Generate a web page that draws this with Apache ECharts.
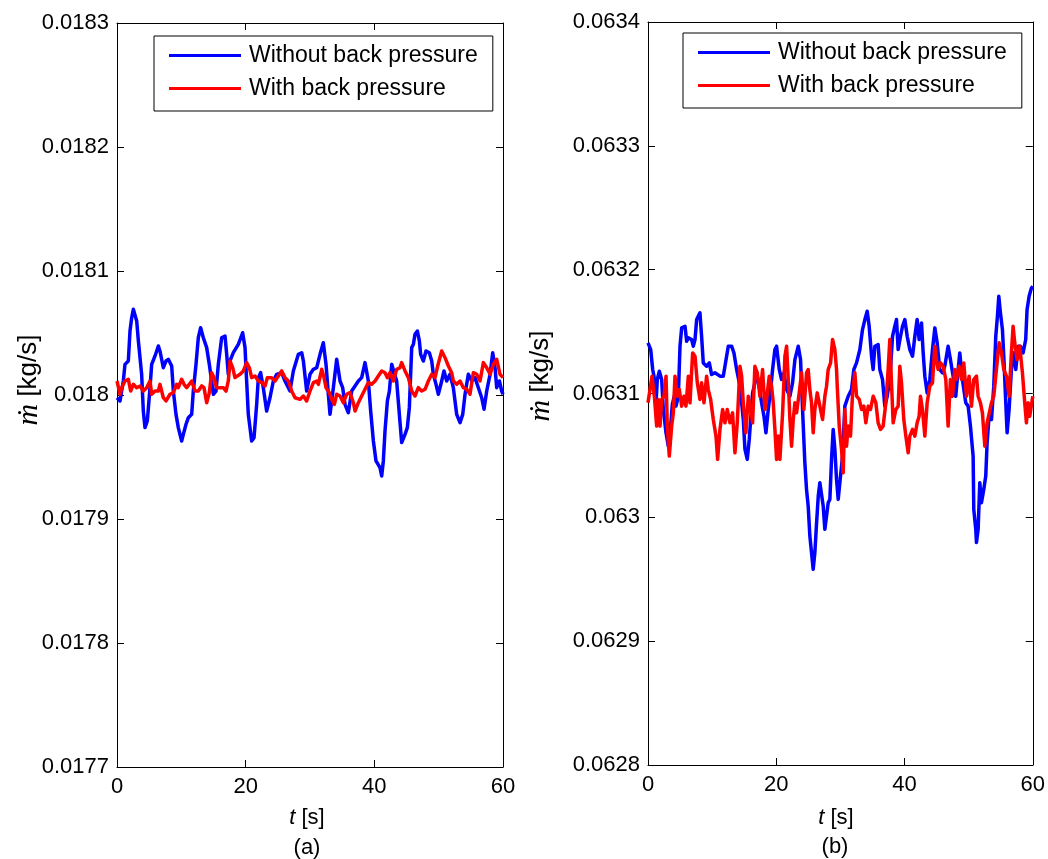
<!DOCTYPE html>
<html>
<head>
<meta charset="utf-8">
<script src="https://cdn.jsdelivr.net/npm/echarts@6/dist/echarts.min.js"></script>
<style>
  html, body { margin: 0; padding: 0; background: #ffffff; }
  #chart { width: 1048px; height: 859px; }
</style>
</head>
<body>
<div id="chart"></div>
<script>
// Mass flow rate traces, [time (s), mass flow (kg/s)]
const seriesNames = ['Without back pressure', 'With back pressure'];
const timeTicks = { min: 0, max: 60, interval: 20 };
const flowRangeA = { min: 0.0177, max: 0.0183, interval: 0.0001 };
const flowRangeB = { min: 0.0628, max: 0.0634, interval: 0.0001 };

const withoutA = [[0,0.0179978],[0.47,0.0179952],[0.98,0.0180113],[1.24,0.0180247],[1.76,0.0180274],[2.02,0.0180516],[2.28,0.0180623],[2.54,0.0180691],[3.06,0.0180597],[3.32,0.0180436],[3.83,0.0180167],[4.09,0.0179871],[4.35,0.0179737],[4.71,0.017979],[5.13,0.0180059],[5.39,0.0180247],[5.91,0.0180315],[6.43,0.0180395],[6.68,0.0180355],[6.94,0.0180341],[7.2,0.018022],[7.62,0.0180274],[7.98,0.0180288],[8.5,0.0180234],[8.76,0.0180032],[9.17,0.0179844],[9.53,0.0179737],[10.05,0.0179629],[10.31,0.0179683],[10.73,0.0179764],[11.09,0.0179817],[11.61,0.0179844],[11.86,0.0180032],[12.28,0.0180247],[12.64,0.0180462],[13.0,0.0180543],[13.42,0.0180462],[13.94,0.0180382],[14.35,0.0180247],[14.71,0.0180113],[14.97,0.0180006],[15.39,0.0180032],[15.75,0.0180247],[16.27,0.0180462],[16.79,0.0180476],[17.05,0.0180328],[17.3,0.0180167],[17.56,0.0180274],[18.08,0.0180341],[18.86,0.0180409],[19.53,0.0180502],[19.9,0.0180382],[20.15,0.0180113],[20.41,0.0179844],[20.93,0.0179629],[21.3,0.0179656],[21.71,0.0179925],[21.97,0.018014],[22.33,0.018018],[22.74,0.0180059],[23.26,0.0179871],[23.78,0.0179978],[24.3,0.0180113],[24.82,0.0180167],[25.6,0.018018],[26.11,0.0180113],[26.89,0.0180032],[27.41,0.0180194],[28.19,0.0180328],[28.71,0.0180341],[28.97,0.0180274],[29.48,0.0180032],[30.0,0.0180167],[30.52,0.0180207],[31.04,0.018022],[31.56,0.0180328],[32.07,0.0180422],[32.49,0.0180247],[32.85,0.0180006],[33.11,0.0179844],[33.63,0.0180059],[34.15,0.0180288],[34.67,0.0180113],[35.08,0.0180059],[35.44,0.0179925],[35.96,0.0179857],[36.48,0.0180032],[37.0,0.0180073],[37.52,0.0180113],[38.03,0.018014],[38.55,0.0180261],[39.07,0.0180113],[39.43,0.0179871],[39.85,0.0179629],[40.26,0.0179468],[40.88,0.0179414],[41.14,0.0179347],[41.4,0.0179468],[41.66,0.017971],[42.03,0.0179952],[42.34,0.0180032],[42.7,0.0180247],[42.95,0.0180261],[43.47,0.0180113],[43.89,0.0179844],[44.25,0.0179616],[44.77,0.0179683],[45.13,0.0179737],[45.44,0.0179898],[45.81,0.0180382],[46.07,0.0180409],[46.32,0.018049],[46.69,0.0180516],[47.0,0.0180436],[47.2,0.0180328],[47.62,0.0180274],[48.03,0.0180355],[48.55,0.0180341],[48.92,0.0180274],[49.17,0.0180167],[49.59,0.0180086],[49.95,0.0180006],[50.47,0.0180113],[50.83,0.0180194],[51.25,0.0180113],[51.76,0.0180167],[52.28,0.0180059],[52.8,0.0179844],[53.32,0.0179777],[53.74,0.0179844],[54.1,0.0180006],[54.61,0.0180167],[55.13,0.0180113],[55.65,0.018014],[56.17,0.0180059],[56.69,0.0179978],[57.05,0.0179885],[57.47,0.0180032],[57.99,0.0180167],[58.4,0.0180341],[58.76,0.018022],[59.02,0.0180059],[59.44,0.0180113],[59.8,0.0180032],[60,0.0180006]];

const withA = [[0,0.0180113],[0.47,0.0180006],[0.73,0.0180059],[1.24,0.0180113],[1.76,0.0180127],[2.12,0.0180032],[2.54,0.0180086],[3.06,0.0180059],[3.58,0.0180073],[4.09,0.0180032],[4.61,0.0180059],[5.13,0.0180113],[5.39,0.0180006],[5.91,0.0180032],[6.43,0.0180032],[6.68,0.0180086],[7.2,0.0179978],[7.62,0.0179952],[8.24,0.0180006],[8.76,0.0180019],[9.27,0.0180086],[9.53,0.0180059],[10.05,0.0180127],[10.42,0.0180086],[10.83,0.0180059],[11.61,0.0180113],[12.12,0.0180032],[12.64,0.0180032],[13.16,0.0180073],[13.52,0.0180059],[13.94,0.0179938],[14.35,0.0180019],[14.71,0.018018],[15.08,0.018014],[15.49,0.0180059],[16.01,0.0180059],[16.53,0.0180059],[16.95,0.0180032],[17.3,0.0180113],[17.56,0.0180274],[17.98,0.018022],[18.34,0.018014],[19.12,0.0180167],[19.64,0.0180194],[20.15,0.0180261],[20.57,0.018022],[20.93,0.018014],[21.45,0.0180153],[21.97,0.0180113],[22.49,0.01801],[23.01,0.0180073],[23.37,0.018014],[24.04,0.018014],[24.56,0.0180113],[25.08,0.0180153],[25.6,0.0180194],[26.11,0.018014],[26.63,0.0180113],[27.15,0.0180032],[27.67,0.0179978],[28.45,0.0179965],[28.97,0.0179992],[29.48,0.0179952],[30.0,0.0180032],[30.52,0.01801],[31.04,0.0180113],[31.3,0.0180086],[31.82,0.0180207],[32.18,0.018014],[32.49,0.0180059],[33.01,0.0180019],[33.37,0.0179965],[33.79,0.0179925],[34.15,0.0180006],[34.67,0.0179992],[35.18,0.0179938],[35.7,0.0180006],[36.22,0.0180019],[36.74,0.0179938],[37.0,0.0179871],[37.52,0.0179938],[38.03,0.0179992],[38.55,0.0180046],[39.07,0.01801],[39.59,0.0180086],[40.11,0.0180113],[40.62,0.0180153],[41.14,0.0180194],[41.66,0.018018],[42.03,0.018014],[42.44,0.018018],[42.96,0.0180113],[43.47,0.0180207],[43.99,0.018022],[44.25,0.0180261],[44.77,0.0180194],[45.29,0.018014],[45.81,0.0180032],[46.32,0.0179992],[46.84,0.0180059],[47.36,0.0180032],[47.88,0.0180046],[48.4,0.0180113],[48.92,0.0180167],[49.43,0.018014],[49.85,0.0180234],[50.47,0.0180355],[50.99,0.0180301],[51.51,0.0180234],[52.02,0.018018],[52.28,0.0180113],[52.8,0.0180086],[53.32,0.0180113],[53.84,0.0180059],[54.36,0.0180046],[54.87,0.0180006],[55.39,0.018018],[55.91,0.0180167],[56.43,0.0180113],[56.95,0.0180261],[57.47,0.018022],[57.99,0.0180167],[58.5,0.0180247],[59.02,0.0180288],[59.54,0.0180167],[60,0.018014]];

const withoutB = [[0,0.0631409],[0.42,0.0631355],[0.73,0.0631194],[0.93,0.063114],[1.25,0.0630925],[1.45,0.0631113],[1.77,0.063118],[2.13,0.0631113],[2.39,0.0630871],[2.81,0.0630683],[3.17,0.0630575],[3.53,0.0630737],[3.79,0.0630911],[4.1,0.0630978],[4.36,0.0630898],[4.73,0.0630978],[4.99,0.0631382],[5.25,0.063153],[5.77,0.0631543],[6.03,0.0631422],[6.29,0.0631449],[6.8,0.0631436],[7.07,0.0631382],[7.33,0.0631436],[7.59,0.0631597],[7.84,0.0631583],[8.1,0.0631651],[8.36,0.0631462],[8.62,0.0631247],[9.14,0.063122],[9.56,0.0631247],[9.92,0.0631153],[10.44,0.0631167],[11.22,0.063114],[11.74,0.063114],[12.0,0.063122],[12.52,0.0631382],[13.04,0.0631382],[13.4,0.0631328],[13.82,0.0631194],[14.34,0.0631059],[14.86,0.063079],[15.12,0.0630548],[15.48,0.0630468],[15.79,0.0630629],[16.05,0.0630817],[16.31,0.0631005],[16.67,0.0631086],[16.93,0.0631167],[17.35,0.0631059],[17.71,0.0630925],[18.08,0.0630817],[18.39,0.0630683],[18.75,0.0630871],[19.12,0.0631032],[19.43,0.0631194],[19.79,0.0631355],[20.05,0.0631382],[20.47,0.0631194],[20.83,0.0631113],[21.19,0.0631167],[21.61,0.0631032],[22.13,0.0630978],[22.54,0.0631086],[22.91,0.0631274],[23.43,0.0631382],[23.79,0.0631274],[24.1,0.0630871],[24.46,0.0630441],[24.72,0.0630226],[24.98,0.0630091],[25.24,0.0629849],[25.5,0.0629715],[25.76,0.0629581],[26.02,0.0629715],[26.29,0.0629957],[26.55,0.0630172],[26.8,0.063028],[27.07,0.063028],[27.32,0.0630091],[27.58,0.0629903],[27.84,0.0630011],[28.1,0.0630118],[28.36,0.0630145],[28.62,0.0630468],[28.88,0.063071],[29.14,0.0630548],[29.4,0.0630306],[29.66,0.0630145],[30.02,0.0630333],[30.34,0.0630495],[30.7,0.0630898],[31.22,0.0630978],[31.74,0.0631032],[32.1,0.0631194],[32.52,0.0631247],[33.04,0.0631355],[33.45,0.0631516],[33.82,0.0631597],[34.18,0.0631664],[34.49,0.0631543],[34.86,0.0631301],[35.11,0.0631194],[35.38,0.0631382],[35.89,0.0631395],[36.15,0.0631194],[36.57,0.0631113],[36.93,0.0630898],[37.3,0.0630978],[37.71,0.0631113],[38.13,0.0631462],[38.49,0.0631543],[38.75,0.0631597],[39.01,0.0631355],[39.38,0.0631462],[39.69,0.0631543],[40.05,0.0631597],[40.42,0.0631462],[40.83,0.0631355],[41.25,0.0631301],[41.61,0.0631462],[41.97,0.0631597],[42.28,0.0631436],[42.65,0.063157],[42.91,0.0631328],[43.17,0.063114],[43.53,0.0631005],[43.95,0.0631113],[44.36,0.0631355],[44.73,0.063153],[45.09,0.0631409],[45.5,0.0631194],[45.92,0.0631167],[46.28,0.063122],[46.8,0.0631382],[47.16,0.0631274],[47.58,0.063114],[47.99,0.0630978],[48.36,0.0631194],[48.62,0.0631328],[49.03,0.0631113],[49.55,0.0630925],[49.92,0.0630898],[50.28,0.0630737],[50.7,0.0630495],[50.8,0.0630064],[51.11,0.0629903],[51.22,0.0629796],[51.48,0.0629903],[51.74,0.063028],[52.0,0.0630118],[52.36,0.0630226],[52.67,0.0630333],[52.88,0.0630602],[53.19,0.0630817],[53.56,0.063079],[53.92,0.0631059],[54.23,0.0631462],[54.49,0.0631624],[54.7,0.0631785],[54.96,0.0631651],[55.27,0.0631516],[55.48,0.0631301],[55.79,0.0630925],[56.0,0.0630683],[56.31,0.0630871],[56.67,0.0631194],[57.04,0.0631328],[57.35,0.0631194],[57.71,0.0631382],[58.07,0.0631382],[58.49,0.0631328],[58.9,0.0631436],[59.11,0.0631677],[59.43,0.0631785],[59.79,0.0631852],[60,0.0631866]];

const withB = [[0,0.0630925],[0.62,0.063114],[0.99,0.0630978],[1.35,0.0630737],[1.61,0.0630952],[1.87,0.0630737],[2.13,0.0630952],[2.49,0.0630978],[2.81,0.063114],[3.01,0.0630737],[3.32,0.0630495],[3.69,0.0630737],[3.95,0.0630844],[4.21,0.063114],[4.57,0.0630978],[4.88,0.0631032],[5.25,0.0630898],[5.61,0.0630978],[5.92,0.0630898],[6.29,0.063114],[6.55,0.0630925],[6.96,0.0631328],[7.33,0.0631301],[7.69,0.0631086],[8.1,0.0630952],[8.36,0.0631086],[8.73,0.0630925],[9.14,0.063114],[9.4,0.0631032],[9.77,0.0630952],[10.18,0.063079],[10.6,0.0630656],[10.86,0.0630468],[11.22,0.063071],[11.64,0.0630871],[12.0,0.0630763],[12.36,0.0630871],[12.78,0.0630763],[13.19,0.0630844],[13.56,0.0630521],[13.92,0.0630763],[14.34,0.063122],[14.6,0.063114],[14.86,0.0630925],[15.27,0.0630683],[15.64,0.0630978],[16.0,0.0630871],[16.31,0.0630763],[16.67,0.063122],[17.04,0.0631167],[17.45,0.0630978],[17.87,0.0631194],[18.23,0.0630871],[18.49,0.0630952],[18.91,0.063114],[19.27,0.0631059],[19.53,0.0630925],[19.79,0.063071],[20.05,0.0630468],[20.31,0.0630656],[20.57,0.0630468],[20.99,0.0630844],[21.35,0.0631301],[21.61,0.0631382],[21.87,0.0631113],[22.13,0.063079],[22.39,0.0630575],[22.65,0.063079],[22.91,0.0630925],[23.17,0.0630844],[23.58,0.0631005],[23.95,0.0631167],[24.31,0.0630871],[24.73,0.0631167],[24.98,0.0631194],[25.24,0.0631032],[25.5,0.0630925],[25.76,0.0630683],[26.02,0.0630871],[26.39,0.0631005],[26.8,0.0630898],[27.22,0.063079],[27.58,0.0630978],[27.84,0.0631059],[28.1,0.0631194],[28.47,0.0631247],[28.78,0.0631436],[29.14,0.0631355],[29.4,0.0631194],[29.51,0.0631059],[29.82,0.0630737],[30.18,0.0630548],[30.44,0.063036],[30.7,0.0630871],[30.96,0.0630575],[31.22,0.0630737],[31.58,0.0630656],[31.9,0.0631005],[32.26,0.0631167],[32.52,0.0630978],[32.94,0.0630952],[33.3,0.0630871],[33.66,0.0630898],[33.97,0.0630763],[34.34,0.0630898],[34.7,0.0630871],[35.11,0.0630978],[35.53,0.0630925],[35.89,0.0630763],[36.26,0.063071],[36.67,0.0630737],[37.09,0.0630925],[37.45,0.0631194],[37.71,0.0631436],[37.97,0.0631086],[38.23,0.0630763],[38.65,0.0630871],[39.01,0.0630898],[39.27,0.063122],[39.53,0.0631086],[39.89,0.063079],[40.21,0.0630656],[40.57,0.0630521],[40.83,0.0630656],[41.25,0.063071],[41.61,0.0630656],[41.97,0.0630763],[42.28,0.0630817],[42.49,0.0630978],[42.8,0.0630871],[43.17,0.0630656],[43.53,0.0630925],[43.95,0.0631059],[44.36,0.0631086],[44.73,0.0631382],[44.98,0.0631274],[45.24,0.0631194],[45.61,0.0631247],[46.02,0.063122],[46.44,0.0631113],[46.8,0.0630737],[47.16,0.0631113],[47.48,0.0630978],[47.84,0.0631194],[48.1,0.0631113],[48.51,0.063122],[48.88,0.0631113],[49.24,0.0631247],[49.66,0.0630978],[50.07,0.063114],[50.44,0.0630898],[50.8,0.0631113],[51.22,0.063114],[51.48,0.0630978],[51.84,0.0630925],[52.15,0.0630844],[52.52,0.0630575],[52.88,0.0630763],[53.19,0.0630763],[53.56,0.0630925],[53.92,0.0630978],[54.33,0.0631194],[54.75,0.0631409],[55.12,0.0631328],[55.48,0.0631194],[55.9,0.063114],[56.31,0.0630978],[56.67,0.0631328],[56.93,0.0631543],[57.19,0.0631409],[57.56,0.0631274],[57.97,0.0631382],[58.39,0.0631167],[58.75,0.0630925],[59.01,0.0630763],[59.27,0.0630925],[59.53,0.0630817],[60,0.0630978]];

const FONT = "'Liberation Sans', Arial, Helvetica, sans-serif";
const INK = '#000000';
const BLUE = '#0000ff';
const RED = '#ff0000';

// One box-style axis: ticks pointing inward, labels only on the bottom/left sides
function timeAxis(gridIndex, position, showLabels) {
  return {
    type: 'value', gridIndex, position,
    min: timeTicks.min, max: timeTicks.max, interval: timeTicks.interval,
    axisLine: { show: true, onZero: false, lineStyle: { color: INK, width: 1 } },
    axisTick: { show: true, inside: true, length: 7, lineStyle: { color: INK, width: 1 } },
    axisLabel: { show: showLabels, color: INK, fontSize: 22, fontFamily: FONT, margin: 9 },
    splitLine: { show: false }
  };
}
function flowAxis(gridIndex, position, range, showLabels) {
  return {
    type: 'value', gridIndex, position,
    min: range.min, max: range.max, interval: range.interval,
    axisLine: { show: true, onZero: false, lineStyle: { color: INK, width: 1 } },
    axisTick: { show: true, inside: true, length: 7, lineStyle: { color: INK, width: 1 } },
    axisLabel: { show: showLabels, color: INK, fontSize: 22, fontFamily: FONT, margin: 8 },
    splitLine: { show: false }
  };
}
function trace(name, color, data, axisIdx) {
  return {
    name, type: 'line', data,
    xAxisIndex: axisIdx, yAxisIndex: axisIdx,
    showSymbol: false, symbol: 'none', smooth: false,
    lineStyle: { color, width: 3.5, join: 'round' }, itemStyle: { color },
    animation: false, silent: true
  };
}
function legendBox(left, top) {
  return {
    orient: 'vertical', left, top,
    data: seriesNames,
    icon: 'rect', itemWidth: 72, itemHeight: 3, itemGap: 10,
    padding: [8, 15, 11, 15],
    borderColor: INK, borderWidth: 1, backgroundColor: '#ffffff',
    textStyle: { color: INK, fontSize: 23, fontFamily: FONT, padding: [0, 0, 0, 3] },
    selectedMode: false
  };
}
function mdotTitle(x, y) {
  return {
    type: 'text', x, y, rotation: Math.PI / 2,
    style: {
      text: '{m|ṁ} [kg/s]',
      fontSize: 26, fontFamily: FONT, fill: INK,
      align: 'center', verticalAlign: 'middle',
      rich: { m: { fontFamily: "'Liberation Serif', 'DejaVu Serif', serif", fontStyle: 'italic', fontSize: 30, fill: INK } }
    }
  };
}
function plainTitle(text, x, y) {
  return {
    type: 'text', x, y,
    style: {
      text, fontSize: 22, fontFamily: FONT, fill: INK,
      align: 'center', verticalAlign: 'middle',
      rich: { i: { fontStyle: 'italic', fontSize: 22, fontFamily: FONT, fill: INK } }
    }
  };
}

const chart = echarts.init(document.getElementById('chart'), null, { renderer: 'canvas' });
chart.setOption({
  backgroundColor: '#ffffff',
  animation: false,
  grid: [
    { left: 117, top: 23, width: 386, height: 744, containLabel: false },
    { left: 648, top: 22, width: 385, height: 743, containLabel: false }
  ],
  xAxis: [
    timeAxis(0, 'bottom', true), timeAxis(0, 'top', false),
    timeAxis(1, 'bottom', true), timeAxis(1, 'top', false)
  ],
  yAxis: [
    flowAxis(0, 'left', flowRangeA, true), flowAxis(0, 'right', flowRangeA, false),
    flowAxis(1, 'left', flowRangeB, true), flowAxis(1, 'right', flowRangeB, false)
  ],
  legend: [legendBox(154, 36), legendBox(683, 33)],
  series: [
    trace(seriesNames[0], BLUE, withoutA, 0),
    trace(seriesNames[1], RED, withA, 0),
    trace(seriesNames[0], BLUE, withoutB, 2),
    trace(seriesNames[1], RED, withB, 2)
  ],
  graphic: [
    mdotTitle(29, 380),
    mdotTitle(541, 376),
    plainTitle('{i|t} [s]', 307, 818),
    plainTitle('{i|t} [s]', 836, 818),
    plainTitle('(a)', 307, 848),
    plainTitle('(b)', 835, 847)
  ]
});
</script>
</body>
</html>
